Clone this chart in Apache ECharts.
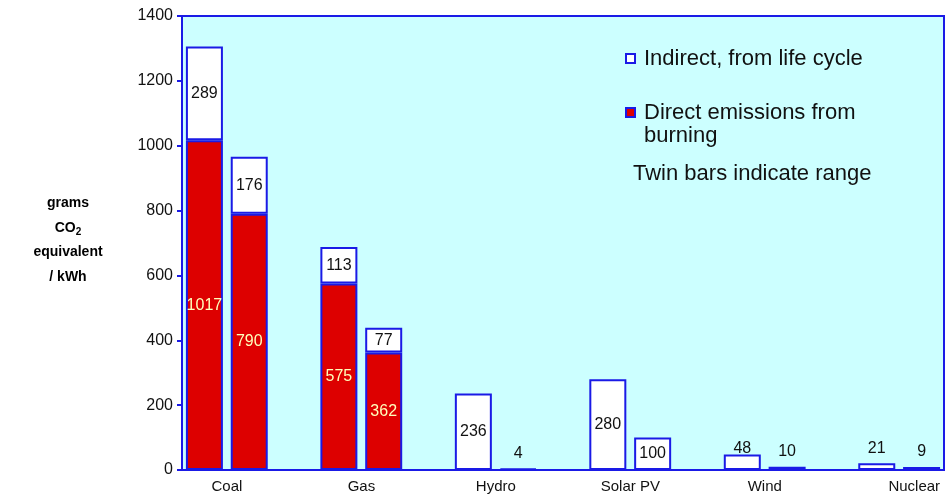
<!DOCTYPE html>
<html>
<head>
<meta charset="utf-8">
<script src="https://cdn.jsdelivr.net/npm/echarts@6/dist/echarts.min.js"></script>
<style>
  html, body { margin: 0; padding: 0; background: #fff; }
  #main { width: 950px; height: 497px; }
</style>
</head>
<body>
<div id="main"></div>
<script>
// categories, each with a twin bar (upper / lower end of range)
const categories = ['Coal', 'Gas', 'Hydro', 'Solar PV', 'Wind', 'Nuclear'];
// direct emissions from burning, [first bar, second bar]
const directFirst = [1017, 575, 0, 0, 0, 0];
const directSecond = [790, 362, 0, 0, 0, 0];
// indirect, from life cycle
const indirectFirst = [289, 113, 236, 280, 48, 21];
const indirectSecond = [176, 77, 4, 100, 10, 9];
const yTicks = [0, 200, 400, 600, 800, 1000, 1200, 1400];

const BLUE = '#1a1ae6';
const RED = '#dd0000';
const FONT = 'Arial, "Liberation Sans", sans-serif';

// 17 slots on the x axis: a pair of bars per category, then one empty slot
const slots = [];
for (let i = 0; i < categories.length * 3 - 1; i++) slots.push(String(i));

function buildData(first, second) {
  const out = slots.map(() => null);
  categories.forEach((c, i) => {
    [first[i], second[i]].forEach((v, k) => {
      const item = { value: v };
      if (v === 0) item.label = { show: false };
      else if (v < 60) item.label = { position: 'top', distance: v > 40 ? -2 : 7 };
      out[i * 3 + k] = item;
    });
  });
  return out;
}

const chart = echarts.init(document.getElementById('main'));

const legendText = { fontSize: 22, color: '#111', lineHeight: 23, fontFamily: FONT, padding: [0, 0, 0, 4] };

const option = {
  animation: false,
  textStyle: { fontFamily: FONT },
  grid: {
    left: 182, top: 16, right: 6, bottom: 27,
    show: true,
    backgroundColor: '#ccffff',
    borderColor: BLUE,
    borderWidth: 2
  },
  legend: [
    {
      orient: 'vertical',
      left: 625,
      top: 47,
      padding: 0,
      itemWidth: 9,
      itemHeight: 9,
      icon: 'rect',
      data: ['Indirect, from life cycle'],
      textStyle: legendText
    },
    {
      orient: 'vertical',
      left: 625,
      top: 78,
      padding: 0,
      itemWidth: 9,
      itemHeight: 9,
      icon: 'rect',
      data: ['Direct emissions from burning'],
      // blank first line keeps the marker level with the first text line
      formatter: () => ' \nDirect emissions from\nburning',
      textStyle: legendText
    }
  ],
  graphic: [
    {
      type: 'text',
      left: 633, top: 163,
      style: {
        text: 'Twin bars indicate range',
        fontSize: 22,
        fill: '#111',
        fontFamily: FONT
      }
    },
    {
      type: 'text',
      x: 68, y: 191,
      style: {
        text: '{b|grams}\n{b|CO}{s|2}\n{b|equivalent}\n{b|/ kWh}',
        align: 'center',
        fontFamily: FONT,
        rich: {
          b: { fontSize: 14, fontWeight: 'bold', fill: '#000', lineHeight: 24.5, align: 'center' },
          s: { fontSize: 10, fontWeight: 'bold', fill: '#000', lineHeight: 24.5, padding: [9, 0, 0, 0] }
        }
      }
    }
  ],
  xAxis: {
    type: 'category',
    data: slots,
    boundaryGap: true,
    splitLine: { show: false },
    axisTick: { show: false },
    axisLine: { show: true, lineStyle: { color: BLUE, width: 2 } },
    axisLabel: {
      interval: 0,
      fontSize: 15,
      color: '#111',
      margin: 9,
      padding: [0, 0, 0, 45],
      formatter: (v, idx) => {
        if (idx % 3 !== 0) return '';
        const name = categories[idx / 3];
        return idx / 3 === categories.length - 1 ? '{last|' + name + '}' : name;
      },
      rich: {
        last: { fontSize: 15, color: '#111', padding: [0, 0, 0, 30] }
      }
    }
  },
  yAxis: {
    type: 'value',
    min: 0,
    max: 1400,
    interval: 200,
    splitLine: { show: false },
    axisLine: { show: true, onZero: false, lineStyle: { color: BLUE, width: 2 } },
    axisTick: { show: true, length: 5, lineStyle: { color: BLUE, width: 2 } },
    axisLabel: {
      fontSize: 16,
      color: '#111',
      margin: 9,
      formatter: v => yTicks.indexOf(v) >= 0 ? String(v) : ''
    }
  },
  series: [
    {
      name: 'Direct emissions from burning',
      type: 'bar',
      stack: 'total',
      barWidth: 37,
      itemStyle: { color: RED, borderColor: BLUE, borderWidth: 2 },
      label: { show: true, position: 'inside', color: '#ffffbb', fontSize: 16 },
      data: buildData(directFirst, directSecond)
    },
    {
      name: 'Indirect, from life cycle',
      type: 'bar',
      stack: 'total',
      barWidth: 37,
      itemStyle: { color: '#ffffff', borderColor: BLUE, borderWidth: 2 },
      label: { show: true, position: 'inside', color: '#111', fontSize: 16 },
      data: buildData(indirectFirst, indirectSecond)
    }
  ]
};

chart.setOption(option);
window.addEventListener('resize', () => chart.resize());
</script>
</body>
</html>
